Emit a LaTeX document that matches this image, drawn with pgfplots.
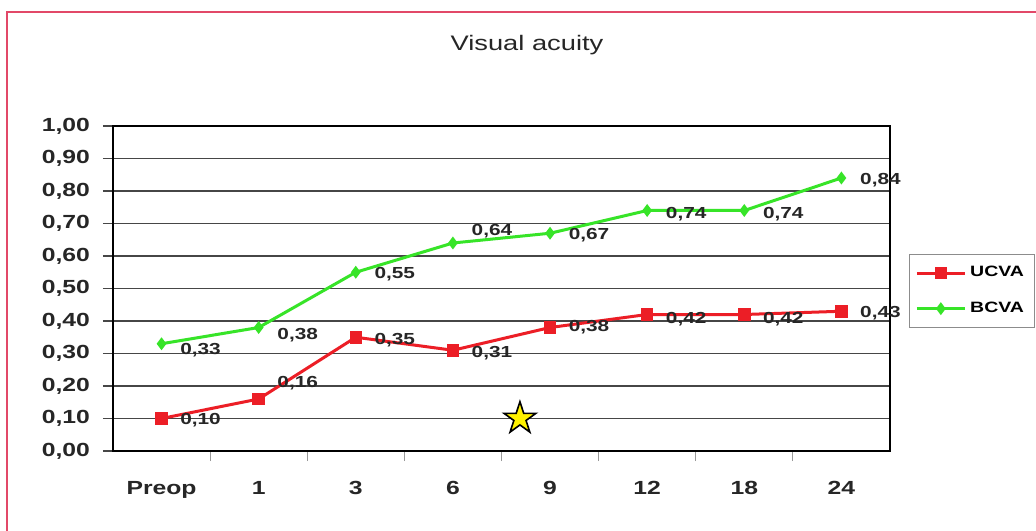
\documentclass[border=0pt]{standalone}
\usepackage{fontspec}
\setmainfont{Liberation Sans}[FakeStretch=1.3]
\usepackage{pgfplots}
\usepackage{pgfplotstable}
\pgfplotsset{compat=1.18}

\definecolor{ucva}{RGB}{236,30,38}
\definecolor{bcva}{RGB}{55,228,40}
\definecolor{framec}{RGB}{226,72,104}
\definecolor{gridc}{RGB}{70,70,70}

% filled five-pointed star
\pgfdeclareplotmark{fstar}{%
  \pgfpathmoveto{\pgfpointpolar{90}{\pgfplotmarksize}}%
  \pgfpathlineto{\pgfpointpolar{126}{0.382\pgfplotmarksize}}%
  \pgfpathlineto{\pgfpointpolar{162}{\pgfplotmarksize}}%
  \pgfpathlineto{\pgfpointpolar{198}{0.382\pgfplotmarksize}}%
  \pgfpathlineto{\pgfpointpolar{234}{\pgfplotmarksize}}%
  \pgfpathlineto{\pgfpointpolar{270}{0.382\pgfplotmarksize}}%
  \pgfpathlineto{\pgfpointpolar{306}{\pgfplotmarksize}}%
  \pgfpathlineto{\pgfpointpolar{342}{0.382\pgfplotmarksize}}%
  \pgfpathlineto{\pgfpointpolar{18}{\pgfplotmarksize}}%
  \pgfpathlineto{\pgfpointpolar{54}{0.382\pgfplotmarksize}}%
  \pgfpathclose
  \pgfusepathqfillstroke
}

% x = category index, dy = label shift (pt)
\pgfplotstableread{
x y dy
0 0.10 -1
1 0.16 8
2 0.35 -1.5
3 0.31 -1.5
4 0.38 0
5 0.42 -2.5
6 0.42 -2.5
7 0.43 -1
}\ucvadata

\pgfplotstableread{
x y dy
0 0.33 -3
1 0.38 -4
2 0.55 -1
3 0.64 6
4 0.67 -1
5 0.74 -2
6 0.74 -2
7 0.84 -1
}\bcvadata

\pgfplotsset{
  lbl/.style={
    visualization depends on={\thisrow{dy} \as \dy},
    nodes near coords={\pgfmathprintnumber[fixed, fixed zerofill, precision=2, use comma, assume math mode=true]{\pgfplotspointmeta}},
    every node near coord/.append style={font=\bfseries\fontsize{8}{9}\selectfont, text=black!85,
        anchor=center, xshift=19.5pt, yshift=\dy pt},
  },
}

\begin{document}
\begin{tikzpicture}
\useasboundingbox (-56.5pt,-39.5pt) rectangle (461.5pt,225.5pt);
\fill[white] (-56.5pt,-39.5pt) rectangle (461.5pt,225.5pt);
\draw[framec, line width=1pt] (-53pt,219.5pt) rectangle (475pt,-50pt);
\begin{axis}[
    at={(0,0)}, anchor=south west,
    width=388.5pt, height=162.5pt,
    scale only axis,
    clip=false,
    xmin=-0.5, xmax=7.5,
    ymin=0, ymax=1,
    ytick={0,0.1,...,1.01},
    xtick={0.5,1.5,...,6.5},
    xticklabel={\phantom{0}},
    extra x ticks={0,1,2,3,4,5,6,7},
    extra x tick labels={Preop,1,3,6,9,12,18,24},
    extra x tick style={major tick length=0pt},
    xtick pos=bottom, ytick pos=left,
    tick align=outside,
    major tick length=5pt,
    x tick style={draw=black!40, line width=0.6pt},
    y tick style={draw=gridc, line width=0.7pt},
    ymajorgrids,
    major grid style={draw=gridc, line width=0.7pt},
    axis line style={draw=black, line width=1pt},
    ticklabel style={font=\bfseries\fontsize{9.5}{11}\selectfont, text=black!85},
    yticklabel style={/pgf/number format/fixed, /pgf/number format/fixed zerofill,
        /pgf/number format/precision=2, /pgf/number format/use comma,
        /pgf/number format/assume math mode=true, xshift=-3pt},
    xticklabel style={yshift=-11.5pt},
    legend style={at={(1.0245,0.606)}, anchor=north west, draw=black!45,
        font=\bfseries\fontsize{7.5}{9}\selectfont, inner xsep=3pt, inner ysep=4pt,
        row sep=7pt},
    legend cell align=left,
    legend image code/.code={\draw[mark repeat=2,mark phase=2] plot coordinates {(0cm,0cm) (0.42cm,0cm) (0.84cm,0cm)};},
]
\addplot[ucva, line width=1.5pt, mark=square*, mark size=2.4pt, lbl]
    table[x=x, y=y] {\ucvadata};
\addlegendentry{UCVA}
\addplot[bcva, line width=1.5pt, mark=diamond*, mark size=2pt, lbl]
    table[x=x, y=y] {\bcvadata};
\addlegendentry{BCVA}
\addplot[only marks, mark=fstar, mark size=8.4pt, draw=black, fill=yellow,
    line width=0.8pt, forget plot]
    coordinates {(3.69,0.10)};
\end{axis}
\node[font=\fontsize{10.5}{12}\selectfont, text=black!85] at (207pt,203pt) {Visual acuity};
\end{tikzpicture}
\end{document}
